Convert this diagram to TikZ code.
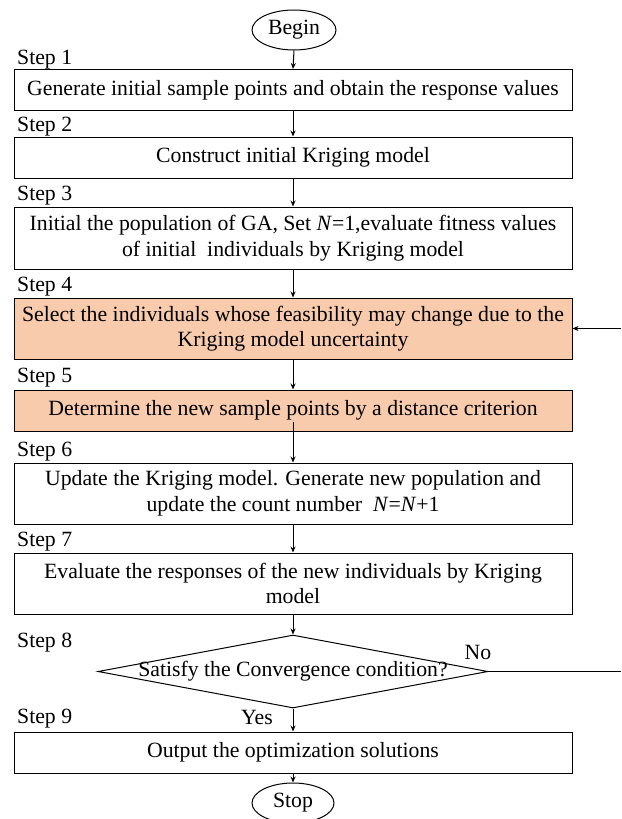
\documentclass[tikz,border=0pt]{standalone}
\usepackage{fontspec}
\setmainfont{Liberation Serif}
\usetikzlibrary{shapes.geometric,arrows.meta}
\definecolor{peach}{RGB}{248,203,173}
\begin{document}
\begin{tikzpicture}[x=1pt,y=-1pt,
  every node/.style={font=\fontsize{21.75}{25.5}\selectfont},
  box/.style={draw, line width=1pt, minimum width=558pt, inner sep=0pt, align=center},
  hl/.style={box, fill=peach},
  term/.style={draw, ellipse, line width=1pt, minimum width=84pt, minimum height=40pt, inner sep=0pt},
  steplbl/.style={anchor=west, inner sep=0pt},
  arr/.style={line width=1pt, -{Stealth[length=6pt,width=5pt]}},
  ln/.style={line width=1pt}
]
\useasboundingbox (0,0) rectangle (621,819);

\node[term] (begin) at (294,30) {\rmfamily Begin};

\node[steplbl] (s1) at (17,60) {Step 1};
\node[box, minimum height=41pt] (b1) at (293,90) {Generate initial sample points and obtain the response values};

\node[steplbl] (s2) at (17,127) {Step 2};
\node[box, minimum height=41pt] (b2) at (293,157.5) {Construct initial Kriging model};

\node[steplbl] (s3) at (17,196) {Step 3};
\node[box, minimum height=62pt] (b3) at (293,238) {Initial the population of GA, Set \textit{N}=1,evaluate fitness values\\of initial\ \ individuals by Kriging model};

\node[steplbl] (s4) at (17,287) {Step 4};
\node[hl, minimum height=61pt] (b4) at (293,328.5) {Select the individuals whose feasibility may change due to the\\Kriging model uncertainty};

\node[steplbl] (s5) at (17,378) {Step 5};
\node[hl, minimum height=41pt] (b5) at (293,410.5) {Determine the new sample points by a distance criterion};

\node[steplbl] (s6) at (17,452) {Step 6};
\node[box, minimum height=61pt] (b6) at (293,493.5) {Update the Kriging model. Generate new population and\\update the count number\ \ \textit{N}=\textit{N}+1};

\node[steplbl] (s7) at (17,542) {Step 7};
\node[box, minimum height=61pt] (b7) at (293,583.5) {Evaluate the responses of the new individuals by Kriging\\model};

\node[steplbl] (s8) at (17,643) {Step 8};
\node[draw, diamond, line width=1pt, minimum width=390pt, minimum height=73pt, inner sep=0pt] (d) at (293,671.5) {};
\node (dt) at (293,671.5) {Satisfy the Convergence condition?};
\node (no) at (478,652) {No};

\node[steplbl] (s9) at (17,719) {Step 9};
\node (yes) at (257,717) {Yes};
\node[box, minimum height=41pt] (b9) at (293,752.5) {Output the optimization solutions};

\node[term, minimum width=82pt] (stop) at (293,803) {\rmfamily Stop};

\draw[arr] (begin.south) -- (b1.north);
\draw[arr] (b1) -- (b2);
\draw[arr] (b2) -- (b3);
\draw[arr] (b3) -- (b4);
\draw[arr] (b4) -- (b5);
\draw[arr] ([yshift=-11pt]b5.center) -- (b6.north);
\draw[arr] (b6) -- (b7);
\draw[arr] (b7.south) -- (d.north);
\draw[arr] (d.south) -- (b9.north);
\draw[arr] (b9.south) -- (stop.north);

\coordinate (fb) at (621,328.5);
\draw[arr] (fb) -- (b4.east);
\coordinate (nr) at (621,671.5);
\draw[ln] (d.east) -- (nr);
\end{tikzpicture}
\end{document}
